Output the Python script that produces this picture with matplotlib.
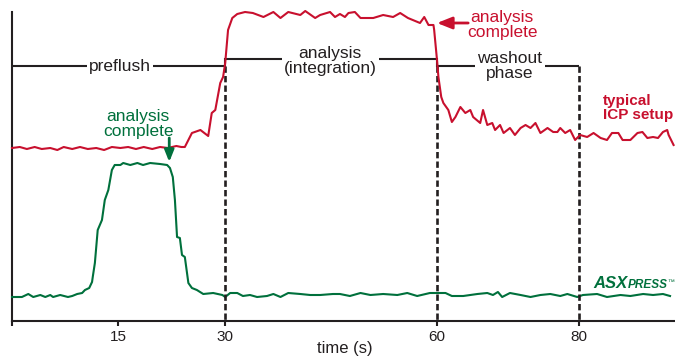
import matplotlib
matplotlib.use("Agg")
import matplotlib.pyplot as plt

plt.rcParams['font.family'] = ['Liberation Sans', 'DejaVu Sans']

RED = '#c8102e'
GREEN = '#00703c'
INK = '#231f20'

# typical ICP setup (red) : time (s), signal (a.u.)
red_t = [0, 1.1, 2.1, 3.2, 4.2, 5.4, 6.4, 7.3, 8.5, 9.6, 10.7, 11.9, 13.0, 14.1, 15.3, 16.4,
         17.5, 18.6, 19.8, 20.9, 22.0, 23.2, 23.9, 24.4, 25.4, 26.6, 27.7, 28.2, 28.7, 29.4,
         29.8, 30.1, 30.5, 31.1, 31.8, 32.9, 34.0, 35.5, 36.9, 37.9, 39.0, 40.7, 41.4, 42.8,
         43.5, 44.9, 45.6, 46.3, 47.0, 47.5, 48.4, 49.2, 51.0, 52.4, 53.8, 54.8, 55.9, 57.6,
         58.2, 58.8, 59.5, 59.6, 60.0, 60.2, 60.6, 60.9, 61.6, 62.1, 62.6, 63.3, 64.0, 64.7,
         65.1, 66.1, 66.5, 67.1, 67.8, 68.2, 68.9, 69.4, 70.3, 71.0, 71.8, 72.5, 73.2, 73.9,
         74.6, 75.6, 76.4, 77.0, 77.4, 78.1, 78.8, 79.5, 80.2, 81.2, 82.1, 83.1, 84.0, 84.7,
         85.6, 86.2, 87.3, 88.3, 89.0, 89.7, 90.5, 91.2, 91.9, 92.5, 92.7, 93.4]
red_v = [173, 174, 172, 174, 172, 173, 171, 174, 172, 174, 172, 173, 171, 174, 173, 174,
         172, 174, 172, 174, 173, 175, 174, 174, 188, 191, 185, 208, 211, 238,
         244, 258, 291, 303, 307, 309, 308, 304, 309, 303, 309, 306, 310, 303,
         306, 309, 304, 307, 304, 308, 309, 303, 303, 306, 304, 308, 303, 298,
         304, 296, 296, 291, 261, 244, 224, 218, 211, 199, 204, 214, 208, 211,
         204, 198, 211, 196, 198, 191, 196, 188, 193, 186, 193, 196, 193, 198,
         188, 193, 189, 189, 193, 188, 191, 181, 186, 184, 188, 183, 181, 188,
         188, 181, 181, 188, 189, 183, 184, 183, 189, 191, 186, 176]

# ASXPRESS (green)
green_t = [0, 1.4, 2.3, 3.0, 4.0, 4.7, 5.4, 5.8, 6.8, 7.9, 8.5, 9.2, 9.9, 10.3, 10.9, 11.3,
           11.4, 11.7, 12.1, 12.7, 13.1, 13.6, 14.1, 14.5, 15.3, 15.7, 16.7, 17.7, 18.5, 19.5,
           20.9, 21.9, 22.3, 22.7, 23.0, 23.3, 23.7, 24.0, 24.4, 24.9, 25.4, 26.1, 27.0, 28.4,
           29.7, 30.1, 30.8, 31.8, 32.6, 33.6, 34.6, 36.0, 36.9, 37.9, 39.0, 40.7, 42.1, 43.5,
           45.3, 46.3, 47.7, 49.2, 50.6, 52.4, 54.4, 55.8, 57.2, 59.0, 60.0, 61.2, 62.1, 63.7,
           65.7, 67.1, 67.9, 68.6, 69.2, 70.3, 71.8, 73.2, 74.6, 76.0, 77.4, 78.4, 79.8, 80.6,
           82.6, 84.0, 85.9, 87.3, 89.1, 90.5, 91.9, 92.9]
green_v = [24, 24, 27, 24, 26, 24, 26, 24, 26, 24, 25, 27, 28, 31, 33, 39,
           44, 58, 91, 101, 121, 131, 151, 156, 156, 158, 156, 158, 156, 158,
           157, 156, 153, 144, 121, 84, 83, 66, 64, 38, 33, 31, 27, 28,
           26, 24, 28, 28, 25, 26, 24, 25, 27, 24, 28, 27, 26, 26,
           27, 27, 25, 28, 26, 27, 26, 28, 25, 28, 28, 28, 25, 25,
           27, 28, 26, 29, 24, 28, 26, 24, 26, 27, 25, 27, 24, 26,
           27, 24, 26, 25, 27, 26, 27, 25]

# phases: (start, end, level, label, label centre time)
phase_start = [0, 30, 60]
phase_end = [30, 60, 80]
phase_level = [255, 262, 255]
phase_labels = ['preflush', 'analysis\n(integration)', 'washout\nphase']
phase_label_t = [15.3, 44.9, 70.3]
phase_label_y = [255, 260, 255]
dashed_t = [30, 60, 80]

xticks = [0, 15, 30, 60, 80]
xticklabels = ['', '15', '30', '60', '80']

fig = plt.figure(figsize=(6.75, 3.56), dpi=100)
ax = fig.add_axes([12 / 675, 35 / 356, 663 / 675, 309 / 356])
ax.set_xlim(0, 93.6)
ax.set_ylim(0, 309)

# phase lines
for s, e, lv in zip(phase_start, phase_end, phase_level):
    ax.plot([s, e], [lv, lv], color=INK, lw=1.5, zorder=2, solid_capstyle='butt')
ax.plot([30, 30], [255, 262], color=INK, lw=1.5, zorder=2)
ax.plot([60, 60], [255, 262], color=INK, lw=1.5, zorder=2)
for t in dashed_t:
    ln, = ax.plot([t, t], [255, 0], color=INK, lw=1.9, zorder=4)
    ln.set_dashes([2.4, 1.2])

for lab, lt, ly in zip(phase_labels, phase_label_t, phase_label_y):
    ax.text(lt, ly, lab, ha='center', va='center', fontsize=12.5, color=INK,
            linespacing=0.95, zorder=3,
            bbox=dict(facecolor='white', edgecolor='none', pad=1.5))

# data lines
ax.plot(green_t, green_v, color=GREEN, lw=1.5, zorder=3, clip_on=False)
ax.plot(red_t, red_v, color=RED, lw=1.5, zorder=5, clip_on=False)

# annotations
ax.text(69.2, 296, 'analysis\ncomplete', ha='center', va='center', fontsize=12.5,
        color=RED, linespacing=0.92)
ax.annotate('', xy=(60.0, 298), xytext=(64.4, 298),
            arrowprops=dict(arrowstyle='-|>,head_length=0.5,head_width=0.2',
                            color=RED, lw=2, mutation_scale=18, shrinkA=0, shrinkB=0),
            zorder=6)
ax.text(17.8, 197, 'analysis\ncomplete', ha='center', va='center', fontsize=12.5,
        color=GREEN, linespacing=0.92)
ax.annotate('', xy=(22.2, 159), xytext=(22.2, 183),
            arrowprops=dict(arrowstyle='-|>,head_length=0.5,head_width=0.2',
                            color=GREEN, lw=2, mutation_scale=14, shrinkA=0, shrinkB=0),
            zorder=6)

ax.text(83.4, 213, 'typical\nICP setup', ha='left', va='center', fontsize=11,
        fontweight='bold', color=RED, linespacing=1.0)

t1 = ax.text(82.1, 33, 'ASX', fontsize=12, fontweight='bold', style='italic',
             color=GREEN, ha='left', va='baseline')
t2 = ax.annotate('PRESS', xy=(1, 0), xycoords=t1, fontsize=8.5, fontweight='bold',
                 style='italic', color=GREEN, ha='left', va='bottom')
ax.annotate('\u2122', xy=(1, 1), xycoords=t2, fontsize=5, color=GREEN,
            ha='left', va='top', annotation_clip=False)

# axes styling
for side in ('top', 'right'):
    ax.spines[side].set_visible(False)
for side in ('left', 'bottom'):
    ax.spines[side].set_linewidth(1.5)
    ax.spines[side].set_color(INK)
ax.set_yticks([])
ax.set_xticks(xticks)
ax.set_xticklabels(xticklabels)
ax.tick_params(axis='x', length=3.5, width=1.5, color=INK, labelsize=11,
               labelcolor=INK, pad=3)
fig.text(345 / 675, 1 - 348 / 356, 'time (s)', ha='center', va='center',
         fontsize=12, color=INK)

fig.savefig('out.png', dpi=100)
